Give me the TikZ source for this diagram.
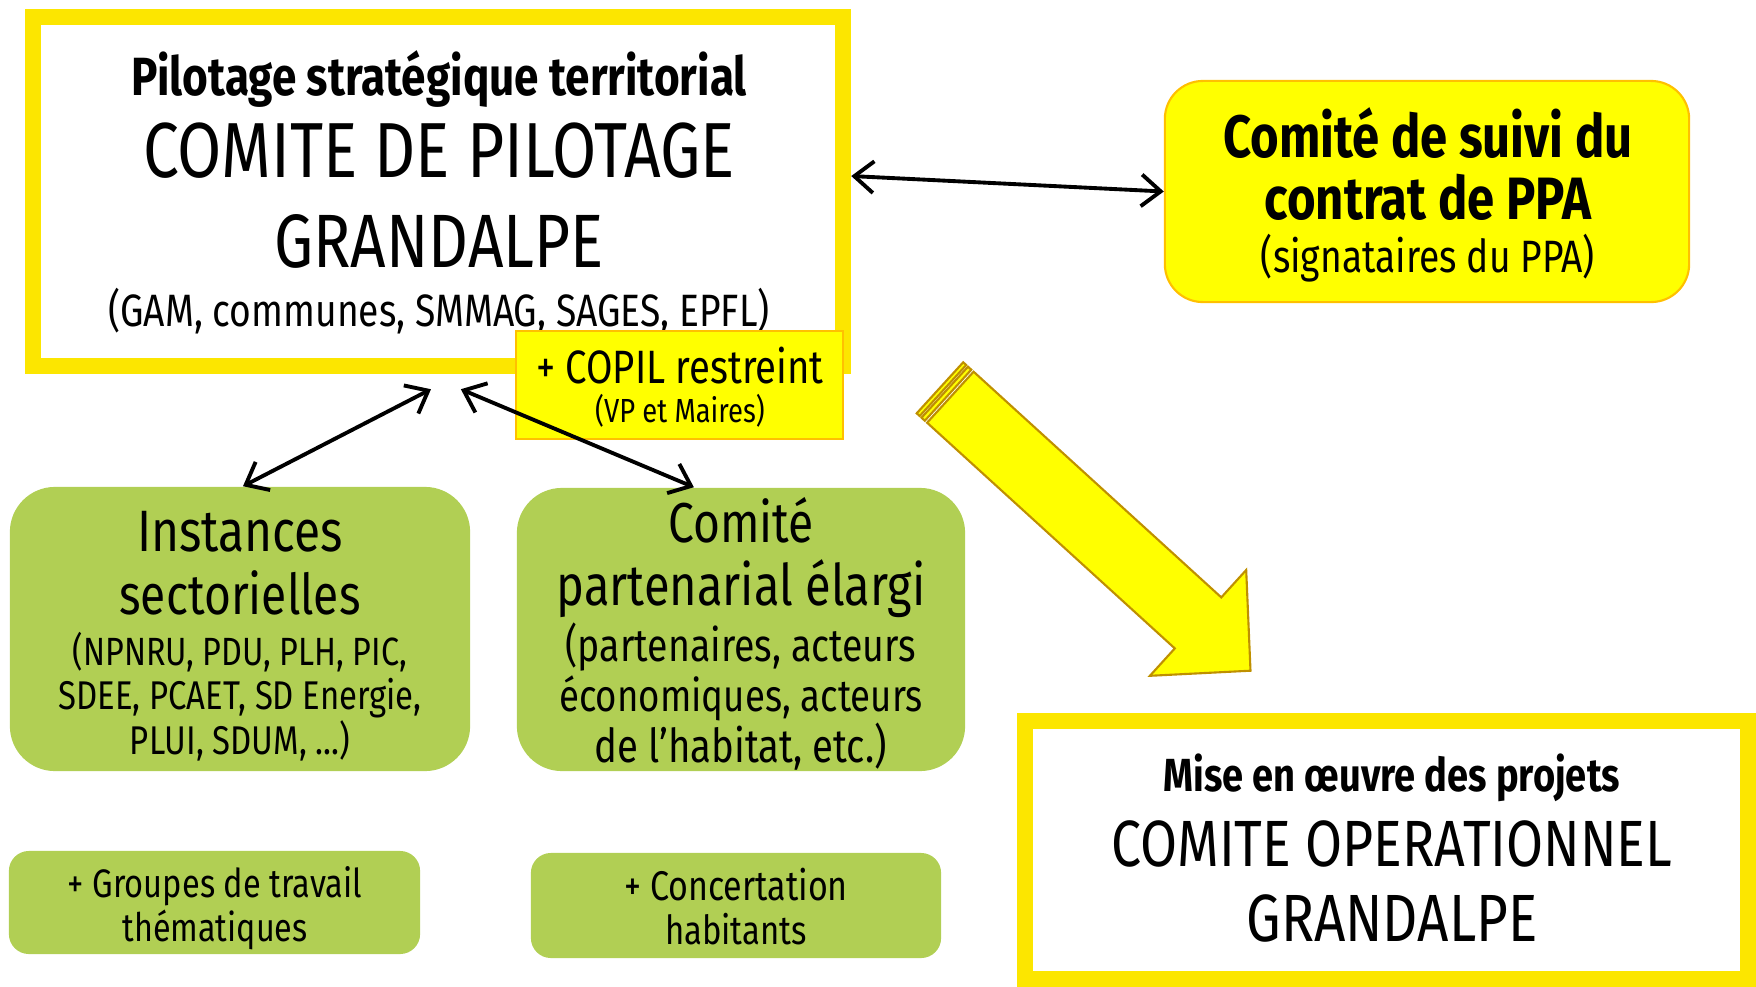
\documentclass[tikz,border=0pt]{standalone}
\usepackage{fontspec}
\setmainfont{Fira Sans}[FakeStretch=0.82]
\usetikzlibrary{arrows.meta}

\definecolor{frameyellow}{RGB}{252,230,0}
\definecolor{boxyellow}{RGB}{255,255,0}
\definecolor{boxorange}{RGB}{255,192,0}
\definecolor{boxgreen}{RGB}{177,207,84}
\definecolor{arrowgold}{RGB}{191,144,0}

\newcommand{\fsz}[1]{\fontsize{#1pt}{#1pt}\selectfont}

\tikzset{
	bigframe/.style={draw=frameyellow, line width=4.55pt, fill=white, inner sep=0pt},
	yellowbox/.style={draw=boxorange, fill=boxyellow, line width=0.6pt, inner sep=0pt},
	greenbox/.style={fill=boxgreen, rounded corners=0.45cm, inner sep=0pt},
	txt/.style={anchor=base, inner sep=0pt},
	link/.style={{Straight Barb[length=5.5pt,width=9pt]}-{Straight Barb[length=5.5pt,width=9pt]}, line width=1.1pt},
}

\begin{document}
\begin{tikzpicture}[x=0.01cm, y=-0.01cm]
	\useasboundingbox (0,0) rectangle (1756,987);

	% pilotage
	\node[bigframe, minimum width=8.10cm, minimum height=3.49cm] (copil) at (438,191.5) {};
	\node[txt, font=\fsz{15.3}\bfseries] (copilA) at (439,95) {Pilotage stratégique territorial};
	\node[txt, font=\fsz{22.2}] (copilB) at (439,177) {COMITE DE PILOTAGE};
	\node[txt, font=\fsz{21.5}] (copilC) at (439,267) {GRANDALPE};
	\node[txt, font=\fsz{12.9}] (copilD) at (439,326) {(GAM, communes, SMMAG, SAGES, EPFL)};

	\node[yellowbox, minimum width=3.27cm, minimum height=1.08cm] (restr) at (679.5,385) {};
	\node[txt, font=\fsz{13.3}] (restrA) at (680,383) {+ COPIL restreint};
	\node[txt, font=\fsz{9.5}] (restrB) at (680,422) {(VP et Maires)};

	% suivi du contrat
	\node[yellowbox, rounded corners=0.38cm, minimum width=5.24cm, minimum height=2.21cm] (suivi) at (1427,191.5) {};
	\node[txt, font=\fsz{17}\bfseries] (suiviA) at (1428,157) {Comité de suivi du};
	\node[txt, font=\fsz{17}\bfseries] (suiviB) at (1428,219) {contrat de PPA};
	\node[txt, font=\fsz{12.9}] (suiviC) at (1428,272) {(signataires du PPA)};

	% instances
	\node[greenbox, minimum width=4.60cm, minimum height=2.84cm] (inst) at (240,629) {};
	\node[txt, font=\fsz{16.6}] (instA) at (240,551) {Instances};
	\node[txt, font=\fsz{16}] (instB) at (240,614) {sectorielles};
	\node[txt, font=\fsz{11.2}] (instC) at (240,665) {(NPNRU, PDU, PLH, PIC,};
	\node[txt, font=\fsz{11.4}] (instD) at (240,709) {SDEE, PCAET, SD Energie,};
	\node[txt, font=\fsz{11.4}] (instE) at (240,754) {PLUI, SDUM, ...)};

	\node[greenbox, minimum width=4.48cm, minimum height=2.83cm] (part) at (741,629.5) {};
	\node[txt, font=\fsz{16}] (partA) at (741,542) {Comité};
	\node[txt, font=\fsz{16.3}] (partB) at (741,605) {partenarial élargi};
	\node[txt, font=\fsz{13}] (partC) at (741,661) {(partenaires, acteurs};
	\node[txt, font=\fsz{12.7}] (partD) at (741,711) {économiques, acteurs};
	\node[txt, font=\fsz{13.3}] (partE) at (741,762) {de l’habitat, etc.)};

	\node[greenbox, rounded corners=0.2cm, minimum width=4.11cm, minimum height=1.03cm] (grp) at (214.5,902.5) {};
	\node[txt, font=\fsz{11.3}] (grpA) at (215,897) {+ Groupes de travail};
	\node[txt, font=\fsz{11.2}] (grpB) at (215,941) {thématiques};

	\node[greenbox, rounded corners=0.2cm, minimum width=4.10cm, minimum height=1.05cm] (conc) at (736,905.5) {};
	\node[txt, font=\fsz{11.8}] (concA) at (736,900) {+ Concertation};
	\node[txt, font=\fsz{11.4}] (concB) at (736,944) {habitants};

	% operationnel
	\node[bigframe, minimum width=7.23cm, minimum height=2.58cm] (oper) at (1386.5,850) {};
	\node[txt, font=\fsz{13.2}\bfseries] (operA) at (1392,791) {Mise en œuvre des projets};
	\node[txt, font=\fsz{18.6}] (operB) at (1392,866) {COMITE OPERATIONNEL};
	\node[txt, font=\fsz{19}] (operC) at (1392,941) {GRANDALPE};

	% big arrow
	\filldraw[fill=boxyellow, draw=arrowgold, line width=0.6pt, line join=miter]
		(916.7,413.3) -- (963.2,362.3) -- (966.2,365.0) -- (919.7,416.0) -- cycle;
	\filldraw[fill=boxyellow, draw=arrowgold, line width=0.6pt, line join=miter]
		(921.5,417.7) -- (968.0,366.7) -- (971.3,369.7) -- (924.8,420.7) -- cycle;
	\filldraw[fill=boxyellow, draw=arrowgold, line width=0.6pt, line join=miter]
		(927.1,422.7) -- (973.6,371.7) -- (1221.3,597.4) -- (1246.2,570.0)
		-- (1250.5,670.7) -- (1149.9,675.8) -- (1174.8,648.4) -- cycle;

	% liens
	\draw[link] ([yshift=4.4pt]copil.east) -- (suivi.west);
	\draw[link] ([xshift=-2pt,yshift=-4.3pt]copil.south) -- ([xshift=0.85pt]inst.north);
	\draw[link] ([xshift=6.5pt,yshift=-4.3pt]copil.south) -- ([xshift=-13.4pt]part.north);
\end{tikzpicture}
\end{document}
